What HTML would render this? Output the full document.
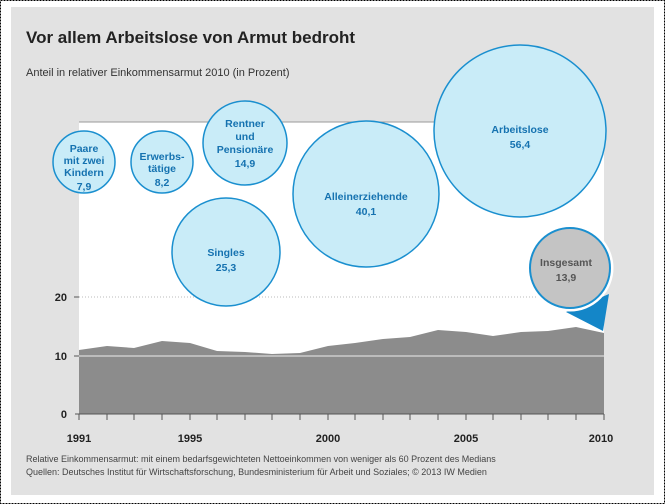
<!DOCTYPE html>
<html><head><meta charset="utf-8"><style>
body{margin:0;width:665px;height:504px;background:#fff;font-family:"Liberation Sans",Arial,sans-serif;}
svg{display:block}
</style></head><body>
<svg width="665" height="504" viewBox="0 0 665 504">
<rect x="0.5" y="0.5" width="664" height="503" fill="#fff" stroke="#000" stroke-dasharray="2,1"/>
<rect x="11" y="7" width="643" height="488" fill="#e2e2e2"/>
<text x="26" y="43" font-size="17" font-weight="bold" fill="#222">Vor allem Arbeitslose von Armut bedroht</text>
<text x="26" y="76" font-size="11" fill="#333">Anteil in relativer Einkommensarmut 2010 (in Prozent)</text>
<rect x="79" y="122" width="525" height="292" fill="#fff"/>
<line x1="79" y1="122" x2="604" y2="122" stroke="#999" stroke-width="1"/>
<line x1="79" y1="297" x2="604" y2="297" stroke="#bbb" stroke-dasharray="1,2"/>
<polygon fill="#8c8c8c" points="79,350 107,346 134,348 162,341 190,343 217,351 245,352 272,354 300,353 328,346 355,343 383,339 410,337 438,330 466,332 493,336 521,332 548,331 576,327 604,333 604,414 79,414"/>
<line x1="79" y1="356" x2="604" y2="356" stroke="#ccc" stroke-width="1.5"/>
<line x1="75" y1="414" x2="604" y2="414" stroke="#555"/>
<g stroke="#555">
<line x1="79" y1="414" x2="79" y2="420"/><line x1="107" y1="414" x2="107" y2="420"/><line x1="134" y1="414" x2="134" y2="420"/><line x1="162" y1="414" x2="162" y2="420"/><line x1="190" y1="414" x2="190" y2="420"/><line x1="217" y1="414" x2="217" y2="420"/><line x1="245" y1="414" x2="245" y2="420"/><line x1="272" y1="414" x2="272" y2="420"/><line x1="300" y1="414" x2="300" y2="420"/><line x1="328" y1="414" x2="328" y2="420"/><line x1="355" y1="414" x2="355" y2="420"/><line x1="383" y1="414" x2="383" y2="420"/><line x1="410" y1="414" x2="410" y2="420"/><line x1="438" y1="414" x2="438" y2="420"/><line x1="466" y1="414" x2="466" y2="420"/><line x1="493" y1="414" x2="493" y2="420"/><line x1="521" y1="414" x2="521" y2="420"/><line x1="548" y1="414" x2="548" y2="420"/><line x1="576" y1="414" x2="576" y2="420"/><line x1="604" y1="414" x2="604" y2="420"/>
<line x1="74" y1="297" x2="79" y2="297"/><line x1="74" y1="356" x2="79" y2="356"/>
</g>
<g font-size="11" font-weight="bold" fill="#222">
<text x="67" y="301" text-anchor="end">20</text><text x="67" y="360" text-anchor="end">10</text><text x="67" y="418" text-anchor="end">0</text>
<text x="79" y="442" text-anchor="middle">1991</text><text x="190" y="442" text-anchor="middle">1995</text><text x="328" y="442" text-anchor="middle">2000</text><text x="466" y="442" text-anchor="middle">2005</text><text x="601" y="442" text-anchor="middle">2010</text>
</g>
<text x="26" y="462" font-size="9" fill="#444">Relative Einkommensarmut: mit einem bedarfsgewichteten Nettoeinkommen von weniger als 60 Prozent des Medians</text>
<text x="26" y="475" font-size="9" fill="#444">Quellen: Deutsches Institut für Wirtschaftsforschung, Bundesministerium für Arbeit und Soziales; © 2013 IW Medien</text>
<polygon points="566,312 609,294 603,331" fill="#1486c8"/>
<g fill="#c9ecf8" stroke="#1a8fcf" stroke-width="1.5">
<circle cx="84" cy="162" r="31"/><circle cx="162" cy="162" r="31"/><circle cx="245" cy="143" r="42"/><circle cx="226" cy="252" r="54"/><circle cx="366" cy="194" r="73"/><circle cx="520" cy="131" r="86"/>
</g>
<circle cx="570" cy="268" r="42" fill="none" stroke="#fff" stroke-width="3"/>
<circle cx="570" cy="268" r="40" fill="#c4c4c4" stroke="#1a8fcf" stroke-width="2"/>
<g font-size="10.5" font-weight="bold" fill="#1572b0" text-anchor="middle">
<text x="84" y="152">Paare</text><text x="84" y="164">mit zwei</text><text x="84" y="176">Kindern</text><text x="84" y="190">7,9</text>
<text x="162" y="160">Erwerbs-</text><text x="162" y="172">tätige</text><text x="162" y="186">8,2</text>
<text x="245" y="127">Rentner</text><text x="245" y="140">und</text><text x="245" y="153">Pensionäre</text><text x="245" y="167">14,9</text>
<text x="226" y="256">Singles</text><text x="226" y="271">25,3</text>
<text x="366" y="200">Alleinerziehende</text><text x="366" y="215">40,1</text>
<text x="520" y="133">Arbeitslose</text><text x="520" y="148">56,4</text>
</g>
<g font-size="10.5" font-weight="bold" fill="#555" text-anchor="middle">
<text x="566" y="266">Insgesamt</text><text x="566" y="281">13,9</text>
</g>
</svg>
</body></html>
